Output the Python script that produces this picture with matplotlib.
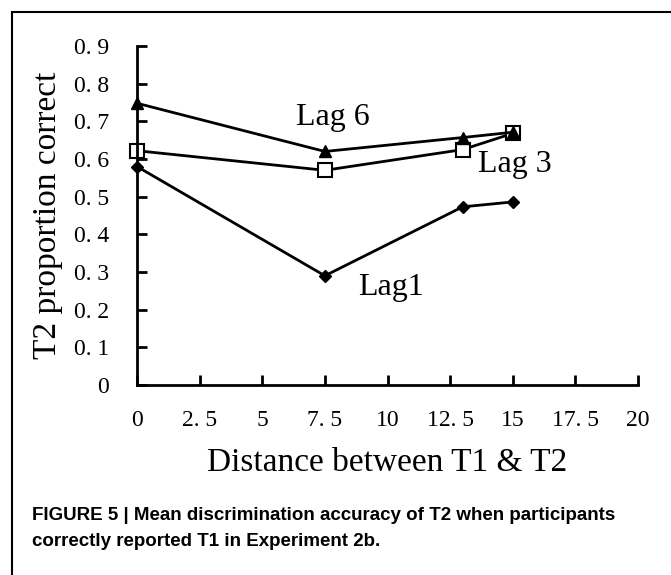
import matplotlib.pyplot as plt
from matplotlib.patches import Rectangle
from matplotlib import font_manager

# data
distance = [0, 7.5, 13, 15]
lag1 = [0.58, 0.29, 0.473, 0.486]
lag3 = [0.622, 0.570, 0.625, 0.668]
lag6 = [0.748, 0.620, 0.657, 0.671]

x_ticks = [0, 2.5, 5, 7.5, 10, 12.5, 15, 17.5, 20]
y_ticks = [0, 0.1, 0.2, 0.3, 0.4, 0.5, 0.6, 0.7, 0.8, 0.9]


def fmt(v):
    # the original uses a wide gap after the decimal point
    s = f"{v:g}"
    return s.replace(".", ". ")


serif = "Liberation Serif"
names = {f.name for f in font_manager.fontManager.ttflist}
caption_font = "Liberation Sans Narrow" if "Liberation Sans Narrow" in names else "Liberation Sans"

fig = plt.figure(figsize=(6.71, 5.75), dpi=100)
ax = fig.add_axes([137 / 671, 1 - 385 / 575, 501 / 671, 339 / 575])

ax.plot(distance, lag1, color="black", lw=2, marker="D", ms=6, mfc="black", mec="black", clip_on=False)
ax.plot(distance, lag3, color="black", lw=2, marker="s", ms=10, mfc="white", mec="black", mew=1.5, clip_on=False)
ax.plot(distance, lag6, color="black", lw=2, marker="^", ms=8, mfc="black", mec="black", clip_on=False)

ax.set_xlim(0, 20)
ax.set_ylim(0, 0.9)
ax.set_xticks(x_ticks)
ax.set_xticklabels([fmt(v) for v in x_ticks], fontfamily=serif, fontsize=17)
ax.set_yticks(y_ticks)
ax.set_yticklabels([fmt(v) for v in y_ticks], fontfamily=serif, fontsize=17)
ax.tick_params(direction="in", length=7, width=2, pad=20)
ax.tick_params(axis="x", pad=18)

for side in ["top", "right"]:
    ax.spines[side].set_visible(False)
for side in ["left", "bottom"]:
    ax.spines[side].set_linewidth(2)

ax.set_xlabel("Distance between T1 & T2", fontfamily=serif, fontsize=24, labelpad=12)
ax.set_ylabel("T2 proportion correct", fontfamily=serif, fontsize=24, labelpad=8)

ax.text(7.8, 0.71, "Lag 6", fontfamily=serif, fontsize=23, ha="center", va="center")
ax.text(15.1, 0.585, "Lag 3", fontfamily=serif, fontsize=23, ha="center", va="center")
ax.text(10.15, 0.26, "Lag1", fontfamily=serif, fontsize=23, ha="center", va="center")

# outer frame of the figure panel
fig.patches.append(Rectangle((12 / 671, -0.1), 1.2, 1 - 12 / 575 + 0.1, transform=fig.transFigure,
                             fill=False, edgecolor="black", lw=1.5))

fig.text(32 / 671, 1 - 515 / 575, "FIGURE 5 | Mean discrimination accuracy of T2 when participants",
         fontfamily=caption_font, fontweight="bold", fontsize=13.5, va="center", ha="left")
fig.text(32 / 671, 1 - 541 / 575, "correctly reported T1 in Experiment 2b.",
         fontfamily=caption_font, fontweight="bold", fontsize=13.5, va="center", ha="left")

fig.savefig("out.png", dpi=100)
